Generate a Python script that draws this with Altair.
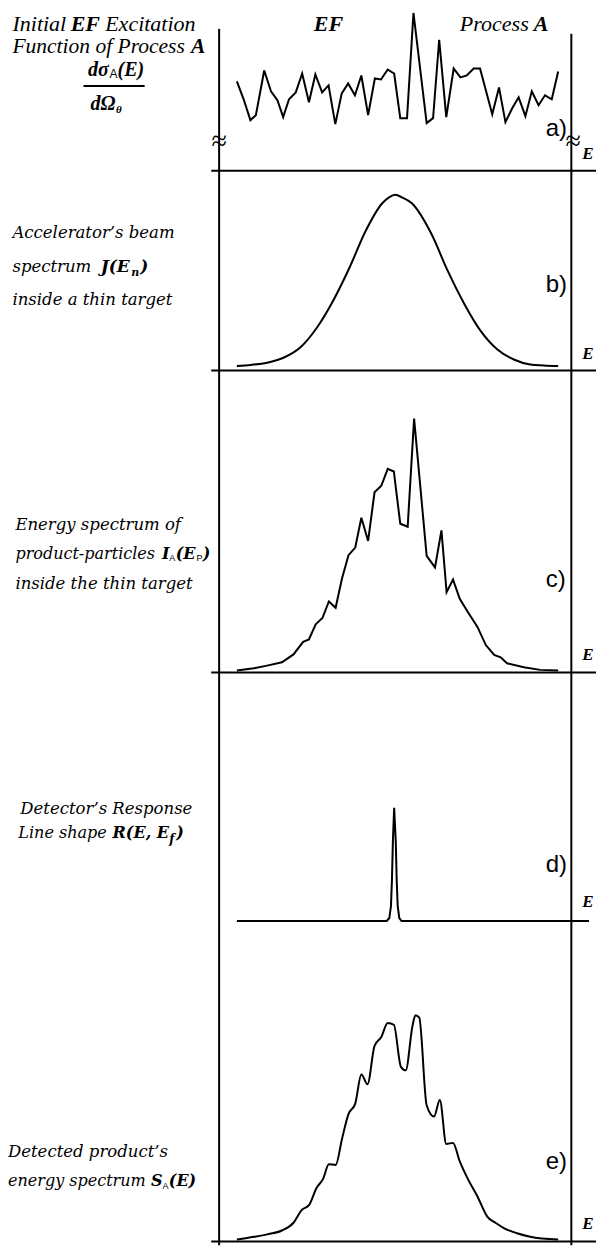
import altair as alt
import pandas as pd

# ---------------- data (E = energy channel, V = curve height) ----------------
# a) initial excitation function of process A
EF_E = [0, 2.1, 4.2, 5.9, 8.5, 10.6, 12.6, 14.4, 16.2, 18.3, 20.3, 22.4, 24.4, 26.5, 28.5,
        30.6, 32.6, 34.6, 36.7, 38.7, 40.8, 42.9, 44.8, 46.9, 48.9, 50.8, 52.9, 54.9, 59.0,
        61.0, 62.9, 65.1, 67.4, 69.5, 71.5, 73.6, 75.6, 79.4, 81.5, 83.5, 85.6, 87.6, 89.7,
        91.7, 93.8, 95.8, 97.9, 99.9]
EF_V = [90, 72, 51, 56, 101, 80, 71, 54, 72, 79, 98, 69, 97, 79, 86,
        47, 78, 88, 76, 96, 56, 93, 92, 102, 98, 53, 53, 159, 48,
        53, 132, 54, 103, 94, 96, 103, 103, 57, 84, 49, 63, 74, 55,
        80, 66, 76, 72, 100]

# b) accelerator beam spectrum
BEAM_E = [0, 4.3, 9.4, 14.5, 19.6, 24.8, 29.8, 35.0, 40.1, 45.2, 47.3, 49.3, 51.3,
          54.4, 60.5, 65.6, 70.8, 75.9, 81.0, 86.1, 91.2, 95.4, 99.9]
BEAM_V = [4.3, 5.5, 7.7, 12.7, 22.7, 42.7, 69.5, 103.5, 141, 168.5, 174.5, 177, 174.5,
          168.5, 137.5, 100, 66.5, 39.3, 21, 11, 6, 5, 4.3]

# c) energy spectrum of product particles
PROD_E = [0, 5.3, 9.4, 14.0, 17.6, 20.6, 22.4, 24.5, 26.6, 28.6, 30.7, 32.7, 34.7, 36.8,
          38.7, 40.8, 42.8, 44.9, 46.9, 48.8, 50.8, 53.1, 55.1, 59.0, 61.6, 63.6, 65.2,
          67.2, 69.3, 71.8, 74.8, 77.4, 80.0, 82.0, 84.0, 89.2, 94.3, 99.9]
PROD_V = [2, 4.3, 7, 10.3, 18.3, 31, 33.3, 48.7, 55, 71.7, 65.3, 95, 118.3, 126,
          156, 132.7, 181.7, 188.3, 205.3, 202.7, 150, 147, 256, 117.7, 106, 143.3, 81,
          93.7, 74.3, 61, 46, 27.7, 17.7, 15.3, 9.3, 5.3, 2.7, 2]

# d) detector response line shape
RESP_E = [0, 46.6, 47.4, 47.9, 48.2, 48.5, 48.9, 49.4, 49.7, 50.0, 50.5, 51.2, 109.5]
RESP_V = [0, 0, 3, 15, 40, 80, 114, 80, 40, 15, 3, 0, 0]

# e) detected energy spectrum
DET_E = [0, 5.3, 9.4, 14.0, 17.6, 20.2, 22.4, 24.8, 26.8, 28.6, 30.7, 32.7, 34.7, 36.8,
         38.7, 40.6, 42.8, 44.9, 46.9, 48.8, 51.0, 52.5, 54.6, 55.5, 56.7, 59.0, 61.3,
         63.1, 65.1, 67.2, 69.3, 71.8, 74.8, 77.9, 80.4, 83.0, 87.1, 91.2, 99.9]
DET_V = [1.8, 4.6, 7.1, 11.0, 18.8, 31.8, 36.5, 54.1, 63.0, 77.8, 77.1, 103.6, 128.3, 138.9,
         168.2, 158.4, 197.2, 206.1, 220.2, 218.4, 176.0, 172.5, 217.3, 227.9, 225.5, 137.2,
         125.8, 142.5, 98.3, 99.3, 80.6, 63.0, 45.3, 24.8, 18.8, 13.5, 8.2, 4.7, 1.8]

PANEL_LABELS = ["a)", "b)", "c)", "d)", "e)"]
AXIS_NAME = "E"

# ---------------- layout ----------------
X0R, X1R = 4, 600                  # reference span shown horizontally
Y0R, Y1R = 4, 1247                 # reference span shown vertically
W, H = 588, 1233                   # keeps the page inside the 605x1251 window
SX = W / (X1R - X0R)
SY = H / (Y1R - Y0R)


def ex(xr):                        # reference px -> energy units
    return (xr - 236) / 3.26


XS = alt.Scale(domain=[ex(X0R), ex(X1R)], nice=False, zero=False)

# (top, bottom, baseline) of each panel in reference px
BOUNDS = [(Y0R, 165, 165), (165, 366, 366), (366, 670, 670), (670, 920, 920), (920, Y1R, 1243)]

ONE = alt.Data(values=[{"k": 0}])
SERIF = "Liberation Serif"
LSERIF = "DejaVu Serif"
SANS = "Liberation Sans"


def txt(s, xr, yr, top, size, font=LSERIF, style="italic", weight="normal",
        align="left", baseline="alphabetic"):
    return alt.Chart(ONE).mark_text(
        text=s, font=font, fontSize=size, fontStyle=style, fontWeight=weight,
        align=align, baseline=baseline, color="black"
    ).encode(x=alt.value((xr - X0R) * SX), y=alt.value((yr - top) * SY))


LETTER_BL = [130, 287, 584, 871, 1170]
E_BL = [153, 355, 657, 906, 1230]


def panel(i, E, V, interp, texts, vtop=None, baseline_rule=True):
    top, bottom, base = BOUNDS[i]
    ymin, ymax = base - bottom, base - top
    YS = alt.Scale(domain=[ymin, ymax], nice=False, zero=False)
    df = pd.DataFrame({"E": E, "V": V})
    line = alt.Chart(df).mark_line(color="black", strokeWidth=2, interpolate=interp).encode(
        x=alt.X("E:Q", scale=XS, axis=None), y=alt.Y("V:Q", scale=YS, axis=None))
    lt, rt = (vtop if vtop else (ymax, ymax))
    vdf = pd.DataFrame({"x": [ex(218), ex(575)], "y": [lt, rt], "y2": [ymin, ymin]})
    vr = alt.Chart(vdf).mark_rule(color="black", strokeWidth=2).encode(
        x=alt.X("x:Q", scale=XS, axis=None), y=alt.Y("y:Q", scale=YS, axis=None), y2="y2:Q")
    layers = [vr]
    if baseline_rule:
        hdf = pd.DataFrame({"x": [ex(210)], "x2": [ex(600)], "y": [0]})
        hr = alt.Chart(hdf).mark_rule(color="black", strokeWidth=2).encode(
            x=alt.X("x:Q", scale=XS, axis=None), x2="x2:Q", y=alt.Y("y:Q", scale=YS, axis=None))
        layers.append(hr)
    layers.append(line)
    layers.append(txt(PANEL_LABELS[i], 549, LETTER_BL[i], top, 24, font=SANS, style="normal"))
    layers.append(txt(AXIS_NAME, 586, E_BL[i], top, 17, font=SERIF, weight="bold"))
    layers += [t(top) for t in texts]
    return alt.layer(*layers).properties(width=W, height=(bottom - top) * SY)


def T(*args, **kw):
    return lambda top: txt(*args, top=top, **kw)


# ---- panel a texts ----
TOP_BL = 24
a_texts = [
    T("Initial", 8.5, TOP_BL, size=22, font=SERIF),
    T("EF", 67.5, TOP_BL, size=22, font=SERIF, weight="bold"),
    T("Excitation", 102.5, TOP_BL, size=22, font=SERIF),
    T("Function of Process", 8.5, 46.5, size=21.5, font=SERIF),
    T("A", 189.5, 46.5, size=21.5, font=SERIF, weight="bold"),
    T("d\u03c3", 85, 69.5, size=20, font=SERIF, weight="bold"),
    T("A", 107, 71.5, size=12, font=SANS, style="normal"),
    T("(E)", 115, 69.5, size=20, font=SERIF, weight="bold"),
    T("d\u03a9", 87.5, 104, size=20, font=SERIF, weight="bold"),
    T("\u03b8", 113.5, 107, size=11, font=SERIF, weight="bold"),
    T("EF", 314, TOP_BL, size=22, font=SERIF, weight="bold"),
    T("Process", 462, TOP_BL, size=22, font=SERIF),
    T("A", 537, TOP_BL, size=22, font=SERIF, weight="bold"),
    T("\u2248", 218, 136, size=28, font=SERIF, style="normal", align="center", baseline="middle"),
    T("\u2248", 577, 136, size=28, font=SERIF, style="normal", align="center", baseline="middle"),
]
frac = lambda top: alt.Chart(ONE).mark_rule(color="black", strokeWidth=2).encode(
    x=alt.value((80.5 - X0R) * SX), x2=alt.value((142.5 - X0R) * SX), y=alt.value((79.5 - top) * SY))
a_texts.append(frac)

b_texts = [
    T("Accelerator\u2019s beam", 8.5, 233, size=16.5),
    T("spectrum", 8.5, 267, size=16.5),
    T("J(E", 98, 267, size=17, weight="bold"),
    T("n", 129, 271, size=11, weight="bold"),
    T(")", 138, 267, size=17, weight="bold"),
    T("inside a thin target", 8.5, 300, size=16.5),
]
c_texts = [
    T("Energy spectrum of", 11.5, 526, size=16.5),
    T("product-particles", 11.5, 556, size=16),
    T("I", 160, 556, size=16, weight="bold"),
    T("A", 167.5, 558, size=9, font=SANS, style="normal"),
    T("(E", 174, 556, size=16, weight="bold"),
    T("P", 195, 558, size=9, font=SANS, style="normal"),
    T(")", 201.5, 556, size=16, weight="bold"),
    T("inside the thin target", 11.5, 586, size=16.5),
]
d_texts = [
    T("Detector\u2019s Response", 16.5, 812, size=16.5),
    T("Line shape", 14.5, 836, size=16),
    T("R(E, E", 110, 836, size=16, weight="bold"),
    T("f", 167.5, 841, size=12, weight="bold"),
    T(")", 174.5, 836, size=16, weight="bold"),
]
e_texts = [
    T("Detected product\u2019s", 4, 1158, size=16.5),
    T("energy spectrum", 4, 1187, size=16),
    T("S", 149, 1187, size=16, weight="bold"),
    T("A", 160.5, 1190, size=9, font=SANS, style="normal"),
    T("(E)", 167, 1187, size=16, weight="bold"),
]

pa = panel(0, EF_E, EF_V, "linear", a_texts, vtop=(165 - 22, 165 - 27))
pb = panel(1, BEAM_E, BEAM_V, "monotone", b_texts)
pc = panel(2, PROD_E, PROD_V, "linear", c_texts)
pd_ = panel(3, RESP_E, RESP_V, "linear", d_texts, baseline_rule=False)
pe = panel(4, DET_E, DET_V, "monotone", e_texts)

chart = alt.vconcat(pa, pb, pc, pd_, pe, spacing=0, bounds="flush").properties(
    padding=0
).configure_view(stroke=None)

chart.save("out.html", embed_options={"renderer": "svg", "actions": False})
